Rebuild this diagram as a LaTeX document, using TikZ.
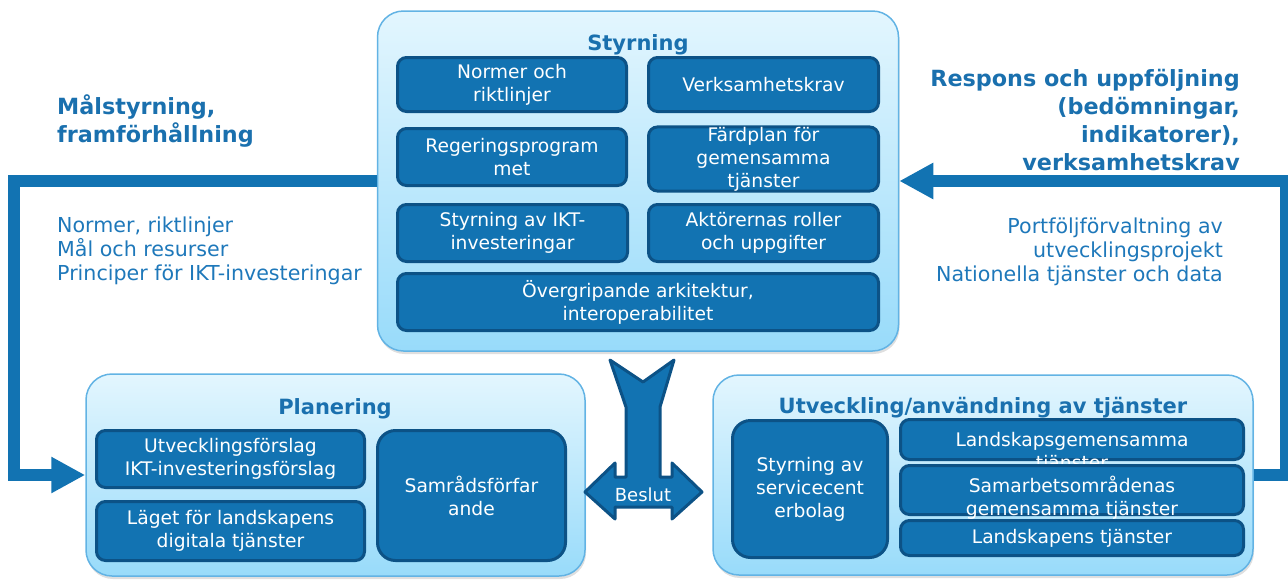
\documentclass[tikz,border=0pt]{standalone}
\usepackage{fontspec}
\setmainfont{DejaVu Sans}
\usetikzlibrary{positioning, arrows.meta, shadows}

\definecolor{flowblue}{HTML}{1273B2}
\definecolor{boxblue}{HTML}{1273B2}
\definecolor{boxline}{HTML}{0C5286}
\definecolor{headblue}{HTML}{1A70AE}
\definecolor{noteblue}{HTML}{1E78BA}
\definecolor{paneltop}{HTML}{E3F6FE}
\definecolor{panelbot}{HTML}{98DBFA}
\definecolor{panelline}{HTML}{62B3E4}

\begin{document}
\begin{tikzpicture}[x=1pt, y=-1pt,
    panel/.style={draw=panelline, line width=1.5pt, rounded corners=26pt,
      top color=paneltop, bottom color=panelbot, inner sep=0pt,
      drop shadow={shadow xshift=1pt, shadow yshift=-3pt, opacity=0.25}},
    item/.style={draw=boxline, fill=boxblue, line width=3pt, rounded corners=9pt,
      text=white, align=center, inner sep=0pt,
      font=\fontsize{18.7}{23}\selectfont},
    itemtext/.style={text=white, align=center, inner sep=0pt,
      font=\fontsize{18.7}{23}\selectfont},
    caption/.style={text=headblue, anchor=base, inner sep=0pt,
      font=\bfseries\fontsize{21}{25}\selectfont},
    heading/.style={text=headblue, inner sep=0pt,
      font=\bfseries\fontsize{22.3}{27.7}\selectfont},
    note/.style={text=noteblue, inner sep=0pt,
      font=\fontsize{20.6}{24}\selectfont},
    flow/.style={draw=flowblue, line width=12pt,
      -{Triangle[length=34pt, width=34pt]}},
  ]
  \useasboundingbox (0,0) rectangle (1288,579);

  % the three panels
  \node[panel, minimum width=521pt, minimum height=340pt] (styrning) at (638,181) {};
  \node[panel, minimum width=499pt, minimum height=202pt] (planering) at (335.5,475) {};
  \node[panel, minimum width=540pt, minimum height=200pt] (utveckling) at (983,475) {};

  \node[caption] (styrningtitle) at (638,50) {Styrning};
  \node[caption] (planeringtitle) at (335,414) {Planering};
  \node[caption] (utvecklingtitle) at (983,413) {Utveckling/användning av tjänster};

  % Styrning
  \node[item, minimum width=229pt, minimum height=54pt] (normer) at (512,84.5) {Normer och\\riktlinjer};
  \node[item, minimum width=230pt, minimum height=54pt] (verksamhet) at (763.5,84.5) {Verksamhetskrav};
  \node[item, minimum width=229pt, minimum height=57pt] (regering) at (512,157) {Regeringsprogram\\met};
  \node[item, minimum width=230pt, minimum height=57pt] (fardplan) at (763.5,159) {Färdplan för\\gemensamma\\tjänster};
  \node[item, minimum width=230pt, minimum height=57pt] (ikt) at (512.5,233) {Styrning av IKT-\\investeringar};
  \node[item, minimum width=230pt, minimum height=57pt] (aktorer) at (763.5,233) {Aktörernas roller\\och uppgifter};
  \node[item, minimum width=481pt, minimum height=57pt] (arkitektur) at (638,302) {Övergripande arkitektur,\\interoperabilitet};

  % Planering
  \node[item, minimum width=268pt, minimum height=57pt] (forslag) at (230.5,459) {Utvecklingsförslag\\IKT-investeringsförslag};
  \node[item, minimum width=268pt, minimum height=59pt] (laget) at (230.5,531) {Läget för landskapens\\digitala tjänster};
  \node[item, rounded corners=18pt, minimum width=188pt, minimum height=130pt] (samrad) at (471.5,495.5) {Samrådsförfar\\ande};

  % Utveckling/användning
  \node[item, rounded corners=18pt, minimum width=155pt, minimum height=137pt] (servicecenter) at (810,489) {Styrning av\\servicecent\\erbolag};
  \node[item, minimum width=343pt, minimum height=40pt] (landsgem) at (1072,439.5) {};
  \node[itemtext] (landsgemtext) at (1072,452.5) {Landskapsgemensamma\\tjänster};
  \node[item, minimum width=343pt, minimum height=49pt] (samarb) at (1072,490) {};
  \node[itemtext] (samarbtext) at (1072,497.5) {Samarbetsområdenas\\gemensamma tjänster};
  \node[item, minimum width=343pt, minimum height=35pt] (landskap) at (1072,538) {Landskapens tjänster};

  % Beslut
  \filldraw[draw=boxline, fill=boxblue, line width=3pt, line join=round]
    (610,360) -- (643,382) -- (674,360) -- (660,407) -- (660,477) -- (672,477)
    -- (672,463) -- (702,492) -- (672,519) -- (672,507) -- (615,507) -- (615,519)
    -- (585,492) -- (615,463) -- (615,477) -- (626,477) -- (626,407) -- cycle;
  \node[itemtext, font=\fontsize{18}{22}\selectfont] (beslut) at (643,495) {Beslut};

  % flows
  \coordinate (leftrail) at (14,181);
  \coordinate (rightrail) at (1286,181);
  \draw[flow] (styrning.west) -- (styrning.west -| leftrail) |- (planering.west);
  \draw[flow] (utveckling.east) -- (utveckling.east -| rightrail) |- (styrning.east);

  % texts beside the flows
  \node[heading, anchor=base west, align=left] (malstyrning) at (57,142) {Målstyrning,\\framförhållning};
  \node[note, anchor=base west, align=left] (normernote) at (57,280) {Normer, riktlinjer\\Mål och resurser\\Principer för IKT-investeringar};
  \node[heading, anchor=base east, align=right] (respons) at (1240,170) {Respons och uppföljning\\(bedömningar,\\indikatorer),\\verksamhetskrav};
  \node[note, anchor=base east, align=right] (portfolj) at (1223,281) {Portföljförvaltning av\\utvecklingsprojekt\\Nationella tjänster och data};
\end{tikzpicture}
\end{document}
